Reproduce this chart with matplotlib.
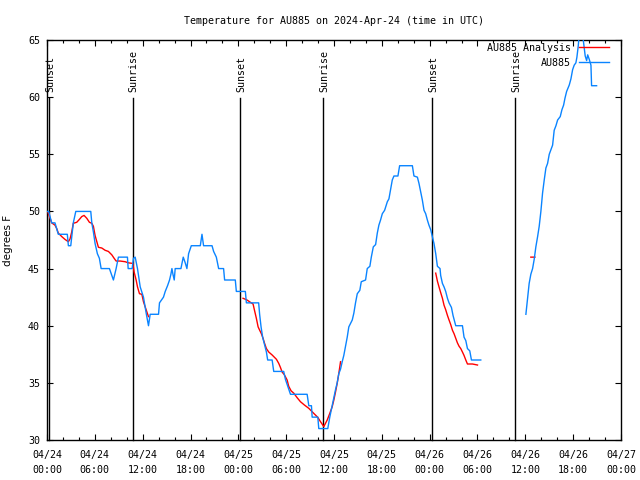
import numpy as np
import matplotlib
matplotlib.use("Agg")
import matplotlib.pyplot as plt
from matplotlib.ticker import MultipleLocator, FixedLocator
from matplotlib.transforms import blended_transform_factory
import datetime as dt

plt.rcParams['font.family'] = ['DejaVu Sans Mono']
plt.rcParams['font.size'] = 7.2

# ---------------- data (hours since 2024-04-24 00:00 UTC) ----------------
obs_hours = [0.0, 0.21, 0.59, 1.0, 1.42, 2.55, 2.68, 2.98, 3.30, 3.61, 5.49, 5.62, 5.82, 6.03,
             6.32, 6.57, 6.79, 7.83, 8.33, 8.67, 8.96, 10.09, 10.18, 10.68, 10.85, 11.06, 11.35,
             11.69, 12.10, 12.44, 12.73, 12.94, 13.99, 14.11, 14.41, 14.61, 14.83, 15.12, 15.37,
             15.54, 15.67, 15.80, 15.96, 16.08, 16.80, 17.09, 17.34, 17.55, 17.76, 18.10, 19.23,
             19.44, 19.64, 20.70, 20.90, 21.24, 21.53, 22.15, 22.28, 23.62, 23.75, 24.88, 25.01,
             26.55, 26.67, 26.85, 27.05, 27.31, 27.52, 27.68, 28.24, 28.44, 29.69, 29.91, 30.20,
             30.54, 32.63, 32.84, 33.17, 33.26, 33.97, 34.09, 35.22, 35.47, 35.77, 35.98, 36.19,
             36.40, 36.60, 36.82, 37.03, 37.23, 37.45, 37.66, 37.86, 38.07, 38.29, 38.49, 38.70,
             38.92, 39.24, 39.42, 39.96, 40.17, 40.50, 40.68, 40.93, 41.22, 41.43, 41.63, 41.84,
             42.06, 42.35, 42.69, 42.89, 43.10, 43.31, 43.52, 44.02, 44.23, 45.83, 46.03, 46.46,
             46.66, 46.87, 47.08, 47.29, 47.50, 47.71, 47.91, 48.13, 48.34, 48.54, 48.76, 48.97,
             49.30, 49.38, 49.60, 49.80, 50.01, 50.23, 50.43, 50.73, 50.93, 51.27, 52.11, 52.31,
             52.53, 52.74, 53.03, 53.24, 54.41,
             None,
             60.07, 60.28, 60.48, 60.69, 60.91, 61.11, 61.32, 61.54, 61.74, 61.95, 62.16, 62.37,
             62.58, 62.79, 63.00, 63.21, 63.42, 63.62, 63.84, 64.05, 64.38, 64.59, 64.80, 64.97,
             65.18, 65.51, 65.72, 65.93, 66.13, 66.34, 66.47, 66.64, 66.76, 66.97, 67.18, 67.38,
             67.51, 67.69, 67.82, 68.02, 68.23, 68.31, 68.94]
obs_temp = [50, 50, 49, 49, 48, 48, 47, 47, 49, 50, 50, 49, 48.2, 47.2,
            46.3, 45.9, 45, 45, 44, 45, 46, 46, 45, 45, 45.9, 46, 45,
            43.4, 42.5, 41.1, 40, 41, 41, 42, 42.3, 42.5, 43, 43.5, 44,
            44.5, 45, 44.5, 44, 45, 45, 46, 45.5, 45, 46.3, 47, 47,
            48, 47, 47, 46.5, 46, 45, 45, 44, 44, 43, 43, 42,
            42, 41, 39.9, 39, 38.3, 37.7, 37, 37, 36, 36, 35.3, 34.7,
            34, 34, 33, 33, 32, 32, 31, 31, 32, 33, 33.7, 34.4,
            35, 35.8, 36.2, 36.85, 37.4, 38.2, 39, 39.9, 40.2, 40.5, 41.1, 42,
            42.8, 43.1, 43.85, 44, 45, 45.2, 46, 46.9, 47.1, 48.1, 48.8, 49.25,
            49.8, 50.1, 50.85, 51.1, 51.9, 52.75, 53.1, 53.1, 54, 54, 53.1, 53,
            52.45, 51.7, 51, 50.1, 49.8, 49.25, 48.8, 48.4, 47.8, 47.2, 46.3, 45.2,
            45, 44.4, 43.7, 43.4, 43, 42.4, 42, 41.6, 40.9, 40, 40, 39,
            38.7, 38, 37.8, 37, 37,
            None,
            41, 42.4, 43.7, 44.5, 45, 45.8, 46.9, 47.8, 48.7, 50, 51.6, 52.75,
            53.8, 54.2, 55, 55.4, 55.8, 57.1, 57.5, 58, 58.3, 58.9, 59.3, 59.9,
            60.5, 61.06, 61.6, 62.4, 62.8, 63, 63.5, 64.5, 65.5, 66, 65.5, 64.3,
            63.6, 63.2, 63.7, 63.3, 62.8, 61, 61]

anl_hours = [0.13, 0.59, 1.0, 1.22, 1.42, 1.85, 2.26, 2.68, 2.89, 3.10, 3.30, 3.73, 4.06, 4.36,
             4.65, 4.99, 5.32, 5.62, 5.82, 6.03, 6.25, 6.45, 6.87, 7.29, 7.70, 8.13, 8.42, 8.67,
             9.17, 9.80, 10.22, 10.77, 10.93, 11.18, 11.35, 11.60, 11.90, 12.10, 12.31, 12.53, 12.73,
             None,
             24.59, 25.09, 25.51, 25.85, 26.01, 26.26, 26.48, 26.68, 26.89, 27.10, 27.27, 27.52,
             27.81, 28.24, 28.78, 29.07, 29.28, 29.49, 29.78, 30.12, 30.32, 30.62, 30.95, 31.38,
             31.79, 32.29, 32.84, 33.46, 33.97, 34.31, 34.72, 35.15, 35.47, 35.77, 35.98, 36.19,
             36.40, 36.60, 36.82,
             None,
             48.76, 48.97, 49.17, 49.38, 49.60, 49.80, 50.01, 50.23, 50.43, 50.64, 50.86, 51.06,
             51.27, 51.48, 51.69, 51.90, 52.11, 52.31, 52.53, 52.74, 53.37, 54.0,
             None,
             60.69, 61.2]
anl_temp = [49.9, 49.0, 48.8, 48.5, 48.1, 47.8, 47.55, 47.35, 47.6, 48.2, 48.96, 49.05, 49.3, 49.55,
            49.65, 49.4, 49.05, 48.96, 48.7, 47.9, 47.35, 46.86, 46.8, 46.6, 46.5, 46.2, 45.9, 45.66,
            45.66, 45.6, 45.5, 45.45, 44.7, 44.0, 43.4, 42.8, 42.75, 42.1, 41.66, 41.2, 40.8,
            None,
            42.4, 42.25, 42.05, 41.9, 41.4, 40.65, 39.9, 39.6, 39.3, 38.9, 38.5, 38.0,
            37.7, 37.44, 37.06, 36.7, 36.35, 35.95, 35.7, 35.25, 34.7, 34.3, 34.1, 33.7,
            33.35, 33.06, 32.77, 32.33, 31.98, 31.6, 31.17, 31.75, 32.33, 32.9, 33.5, 34.2,
            34.96, 35.8, 36.85,
            None,
            44.6, 43.9, 43.4, 42.9, 42.4, 41.8, 41.4, 40.9, 40.5, 40.1, 39.6, 39.3,
            38.9, 38.5, 38.2, 38.0, 37.7, 37.4, 37.0, 36.65, 36.65, 36.56,
            None,
            46.0, 46.0]

sun_hours = [0.29, 10.75, 24.25, 34.67, 48.34, 58.76]
sun_labels = ["Sunset", "Sunrise", "Sunset", "Sunrise", "Sunset", "Sunrise"]

start = dt.datetime(2024, 4, 24, 0, 0)
major_hours = list(range(0, 73, 6))
tick_labels = [(start + dt.timedelta(hours=h)).strftime("%m/%d\n%H:%M") for h in major_hours]
y_ticks = [30, 35, 40, 45, 50, 55, 60, 65]


def to_arr(v):
    return np.array([np.nan if a is None else a for a in v], dtype=float)


# ---------------- figure ----------------
fig = plt.figure(figsize=(6.4, 4.8), dpi=100)
ax = fig.add_axes([47 / 640, 40 / 480, 574 / 640, 400 / 480])

ax.plot(to_arr(anl_hours), to_arr(anl_temp), color='#ff0000', lw=1.0, label='AU885 Analysis', zorder=3)
ax.plot(to_arr(obs_hours), to_arr(obs_temp), color='#0a84ff', lw=1.0, label='AU885', zorder=4)

ax.set_xlim(0, 72)
ax.set_ylim(30, 65)

trans = blended_transform_factory(ax.transData, ax.transAxes)
for h, lab in zip(sun_hours, sun_labels):
    ax.plot([h, h], [0, 0.855], color='black', lw=1.0, transform=trans, zorder=2, clip_on=False)
    ax.text(h + 0.12, 0.87, lab, rotation=90, ha='center', va='bottom', transform=trans,
            fontsize=7.2)

ax.xaxis.set_major_locator(FixedLocator(major_hours))
ax.set_xticklabels(tick_labels, linespacing=1.6)
ax.xaxis.set_minor_locator(MultipleLocator(2))
ax.set_yticks(y_ticks)

ax.tick_params(which='both', direction='in', top=True, right=True, width=0.8)
ax.tick_params(which='major', length=4, labelsize=7.2)
ax.tick_params(which='minor', length=2.2)
ax.tick_params(axis='x', pad=7.5)
ax.tick_params(axis='y', pad=5)
for s in ax.spines.values():
    s.set_linewidth(1.0)

ax.set_title("Temperature for AU885 on 2024-Apr-24 (time in UTC)", fontsize=7.2, pad=11.5)
ax.set_ylabel("degrees F", fontsize=7.5, family='DejaVu Sans', labelpad=11)

leg = ax.legend(loc='upper right', bbox_to_anchor=(0.9796, 0.993), frameon=False,
                markerfirst=False, handlelength=3.0, handletextpad=0.8,
                labelspacing=0.5, borderpad=0, borderaxespad=0, fontsize=7.2)

fig.savefig("out.png", dpi=100)
